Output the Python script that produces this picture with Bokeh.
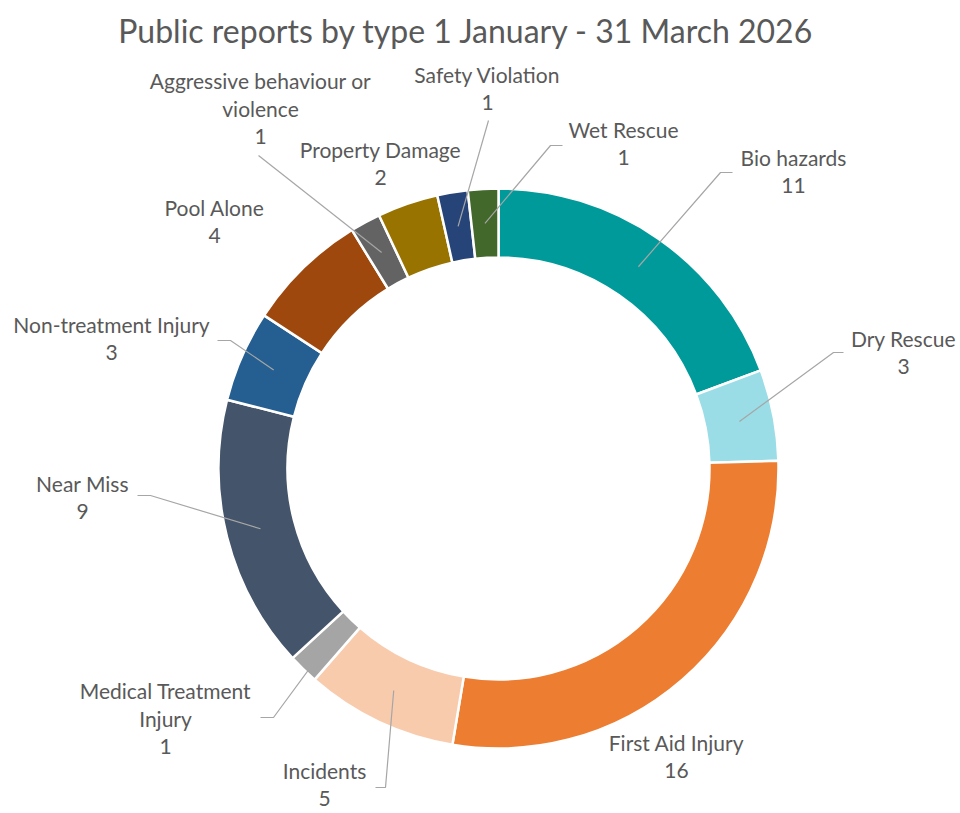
import math

from bokeh.core.properties import value
from bokeh.embed import file_html
from bokeh.models import ColumnDataSource, Range1d
from bokeh.plotting import figure
from bokeh.resources import INLINE

# Report counts per type, clockwise from 12 o'clock
categories = [
    "Bio hazards", "Dry Rescue", "First Aid Injury", "Incidents",
    "Medical Treatment Injury", "Near Miss", "Non-treatment Injury",
    "Pool Alone", "Aggressive behaviour or violence", "Property Damage",
    "Safety Violation", "Wet Rescue",
]
counts = [11, 3, 16, 5, 1, 9, 3, 4, 1, 2, 1, 1]

# Label text split into display lines
label_lines = [
    ["Bio hazards"], ["Dry Rescue"], ["First Aid Injury"], ["Incidents"],
    ["Medical Treatment", "Injury"], ["Near Miss"], ["Non-treatment Injury"],
    ["Pool Alone"], ["Aggressive behaviour or", "violence"], ["Property Damage"],
    ["Safety Violation"], ["Wet Rescue"],
]

# Styling
colors = [
    "#009A9A", "#9ADDE6", "#ED7D31", "#F8CBAD", "#A5A5A5", "#44546A",
    "#255E91", "#9E480E", "#636363", "#997300", "#264478", "#43682B",
]
TITLE = "Public reports by type 1 January - 31 March 2026"
FONT = "Lato"
TEXT_COLOR = "#595959"
LEADER_COLOR = "#A6A6A6"

W, H = 960, 813
CX, CY = 498, 468          # ring centre (page coords, y down)
R_OUT, R_IN = 280, 211
LINE_STEP = 28

# Label placement (page coords: centre x, first-line y) and leader stubs
label_xy = [
    (793, 157), (903, 338), (676, 742), (324, 770), (165, 690), (82, 483),
    (111, 324), (214, 207), (260, 80), (380, 149), (487, 74), (623, 129),
]
leader_stubs = [
    [(732, 172), (720, 172)], [(843, 352), (833, 352)], None,
    [(375, 787), (385, 787)], [(260, 717), (273, 717)],
    [(137, 495), (150, 495)], [(217, 340), (230, 340)], None,
    [(258, 155)], None, [(488, 120)], [(562, 145), (550, 145)],
]


def fy(y):
    """page y (down) -> data y (up)"""
    return H - y


total = sum(counts)
starts, ends, mids = [], [], []
acc = 0
for c in counts:
    a0 = math.pi / 2 - 2 * math.pi * acc / total
    acc += c
    a1 = math.pi / 2 - 2 * math.pi * acc / total
    starts.append(a0)
    ends.append(a1)
    mids.append((a0 + a1) / 2)

p = figure(
    width=W, height=H, output_backend="svg", toolbar_location=None,
    x_range=Range1d(0, W), y_range=Range1d(0, H), min_border=0,
)
p.axis.visible = False
p.grid.visible = False
p.outline_line_color = None
p.background_fill_color = "white"
p.border_fill_color = "white"

ring = ColumnDataSource(dict(
    cat=categories, n=counts, start=starts, end=ends, color=colors,
))
p.annular_wedge(
    x=CX, y=fy(CY), inner_radius=R_IN, outer_radius=R_OUT,
    start_angle="start", end_angle="end", direction="clock",
    fill_color="color", line_color="white", line_width=2.5, source=ring,
)

# Leader lines from label stubs to each segment's mid-ring point
r_mid = (R_IN + R_OUT) / 2
for stub, ang in zip(leader_stubs, mids):
    if not stub:
        continue
    xs = [sx for sx, _ in stub] + [CX + r_mid * math.cos(ang)]
    ys = [fy(sy) for _, sy in stub] + [fy(CY) + r_mid * math.sin(ang)]
    p.line(xs, ys, line_color=LEADER_COLOR, line_width=1.2)

# Category name + count labels
tx, ty, tt = [], [], []
for (lx, ly), lines, n in zip(label_xy, label_lines, counts):
    for k, s in enumerate(lines + [str(n)]):
        tx.append(lx)
        ty.append(fy(ly + k * LINE_STEP))
        tt.append(s)
p.text(
    x=tx, y=ty, text=tt, text_align="center", text_baseline="middle",
    text_font=value(FONT), text_font_size="21px", text_color=TEXT_COLOR,
)

p.text(
    x=[466], y=[fy(30)], text=[TITLE], text_align="center",
    text_baseline="middle", text_font=value(FONT), text_font_size="32px",
    text_color=TEXT_COLOR,
)

open("out.html", "w").write(file_html(p, INLINE))
